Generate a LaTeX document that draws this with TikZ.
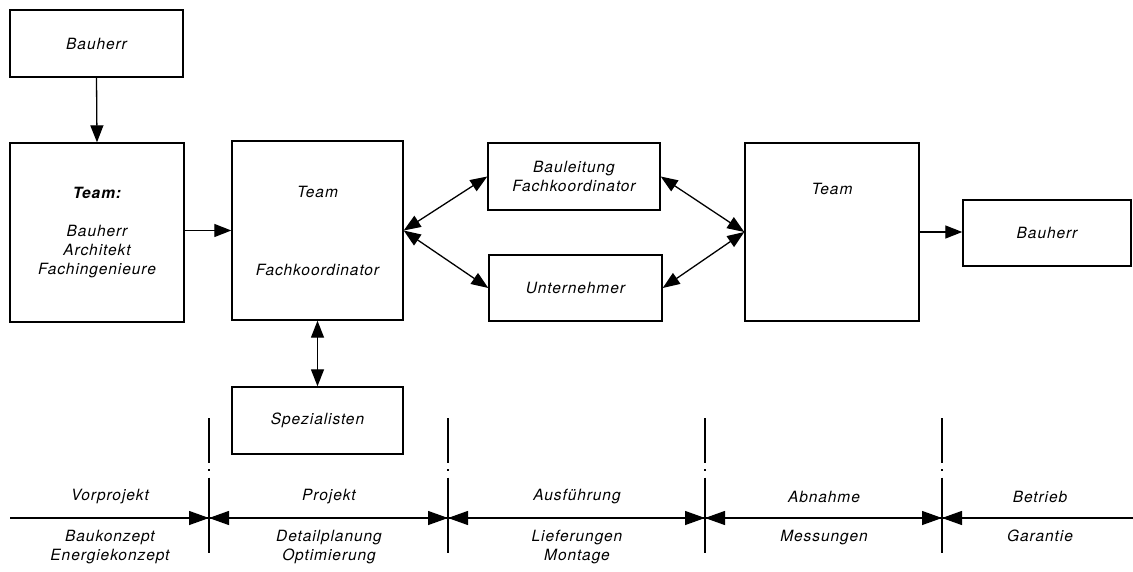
\documentclass[tikz,border=0pt]{standalone}
\usepackage{fontspec}
\setmainfont{TeX Gyre Heros}[LetterSpace=6]
\usetikzlibrary{arrows.meta,calc}
\begin{document}
\begin{tikzpicture}[x=1pt,y=-1pt,
  every node/.style={font=\fontsize{15.5}{19}\selectfont\itshape, align=center},
  box/.style={draw, line width=1.4pt, inner sep=0pt},
  conn/.style={line width=1.3pt},
  tipm/.tip={Triangle[length=17pt,width=13pt]},
  arr/.style={conn, -tipm},
  darr/.style={conn, tipm-tipm},
  tarr/.style={line width=1.3pt, -{Triangle[length=20pt,width=14pt]}},
  divider/.style={line width=1.2pt, dash pattern=on 45pt off 6pt on 1.5pt off 7pt on 200pt},
  lbl/.style={inner sep=0pt}
]
\useasboundingbox (0,0) rectangle (1133,572);
\fill[white] (0,0) rectangle (1133,572);

% boxes
\node[box, minimum width=173pt, minimum height=67pt] (bh1) at (96.5,43.5) {Bauherr};
\node[box, minimum width=174pt, minimum height=179pt] (team1) at (97,232.5)
  {\textbf{Team:}\\[19pt]Bauherr\\Architekt\\Fachingenieure};
\node[box, minimum width=171pt, minimum height=179pt] (team2) at (317.5,230.5)
  {Team\\[59pt]Fachkoordinator};
\node[box, minimum width=172pt, minimum height=67pt] (bl) at (574,176.5)
  {Bauleitung\\Fachkoordinator};
\node[box, minimum width=173pt, minimum height=66pt] (un) at (575.5,288) {Unternehmer};
\node[box, minimum width=174pt, minimum height=178pt] (team3) at (832,232) {};
\node[lbl] (team3t) at ($(team3.north)+(0,47)$) {Team};
\node[box, minimum width=168pt, minimum height=66pt] (bh2) at (1047,233) {Bauherr};
\node[box, minimum width=171pt, minimum height=67pt] (spez) at (317.5,420.5) {Spezialisten};

% connectors
\draw[arr] (bh1.south) -- (team1.north);
\draw[arr] (team2.west -| team1.east) -- (team2.west);
\draw[darr] (team2.east) -- (bl.west);
\draw[darr] (team2.east) -- (un.west);
\draw[darr] (bl.east) -- (team3.west);
\draw[darr] (un.east) -- (team3.west);
\draw[arr] (team3.east) -- (team3.east -| bh2.west);
\draw[darr] (team2.south) -- (spez.north);

% timeline
\coordinate (tl) at (10,518);
\coordinate (tr) at (1133,518);
\draw[line width=1.3pt] (tl) -- (tr);
\foreach \n/\x in {1/209,2/448,3/705,4/942}{
  \coordinate (d\n) at (\x,518);
  \coordinate (dt\n) at (\x,418);
  \coordinate (db\n) at (\x,553);
  \coordinate (dl\n) at (\x-30,518);
  \coordinate (dr\n) at (\x+30,518);
  \draw[divider] (dt\n) -- (db\n);
  \draw[tarr] (dl\n) -- (d\n);
  \draw[tarr] (dr\n) -- (d\n);
}

% phase labels
\node[lbl] (p1) at (110,497) {Vorprojekt};
\node[lbl] (p2) at (329,497) {Projekt};
\node[lbl] (p3) at (577,497) {Ausführung};
\node[lbl] (p4) at (824,497) {Abnahme};
\node[lbl] (p5) at (1040,497) {Betrieb};
\node[lbl, anchor=north] (q1) at (110,530) {Baukonzept\\Energiekonzept};
\node[lbl, anchor=north] (q2) at (329,530) {Detailplanung\\Optimierung};
\node[lbl, anchor=north] (q3) at (577,530) {Lieferungen\\Montage};
\node[lbl, anchor=north] (q4) at (824,530) {Messungen};
\node[lbl, anchor=north] (q5) at (1040,530) {Garantie};
\end{tikzpicture}
\end{document}
